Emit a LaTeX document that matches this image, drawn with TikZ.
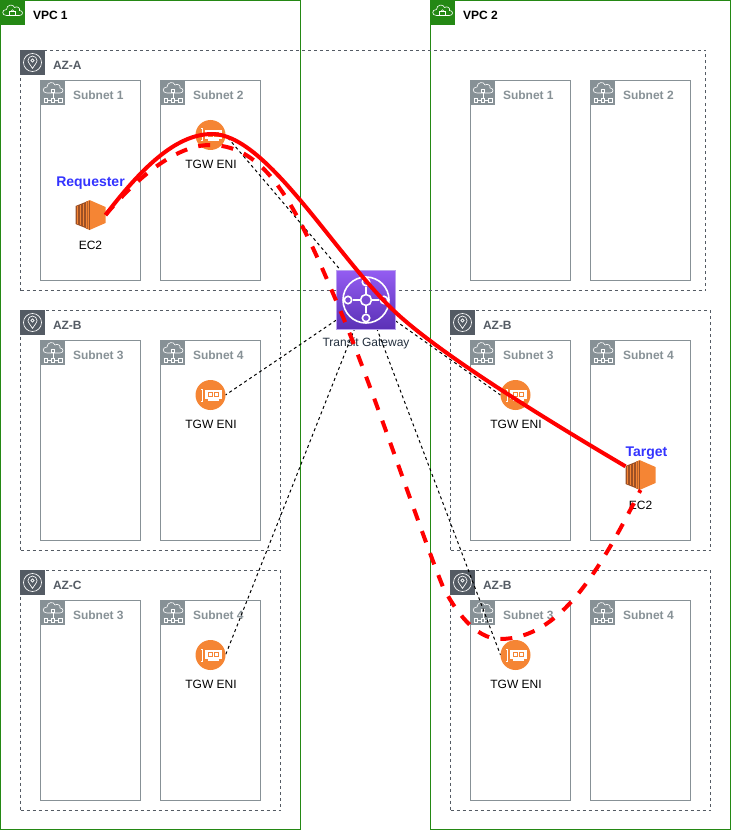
\documentclass[tikz,border=0pt]{standalone}
\usepackage{fontspec}
\setmainfont{Liberation Sans}
\pgfdeclarelayer{conn}
\pgfdeclarelayer{icons}
\pgfdeclarelayer{top}
\pgfsetlayers{main,conn,icons,top}
\definecolor{vpcgreen}{HTML}{248814}
\definecolor{azgray}{HTML}{545B64}
\definecolor{subgray}{HTML}{879196}
\definecolor{eniorange}{HTML}{F58534}
\definecolor{ec2dark}{HTML}{9D5025}
\definecolor{reqblue}{HTML}{3333FF}
\definecolor{tgwtop}{HTML}{945DF2}
\definecolor{tgwbot}{HTML}{5A30B5}
\definecolor{tgwedge}{HTML}{B9A0EE}
\definecolor{tgwtext}{HTML}{232F3E}
\tikzset{
  every node/.style={inner sep=0pt,outer sep=0pt,font=\fontsize{9}{11}\selectfont},
  vpcbox/.style={draw=vpcgreen,line width=.75pt,anchor=north west,minimum width=225pt,minimum height=622.1pt},
  azbox/.style={draw=azgray,line width=.75pt,dash pattern=on 2.25pt off 2.25pt,anchor=north west,minimum width=195pt,minimum height=180pt},
  subnetbox/.style={draw=subgray,line width=.75pt,anchor=north west,minimum width=75pt,minimum height=150pt},
  vpctile/.style={fill=vpcgreen,anchor=north west,minimum size=18.75pt},
  aztile/.style={fill=azgray,anchor=north west,minimum size=18.75pt},
  subtile/.style={fill=subgray,anchor=north west,minimum size=18pt},
  vpclabel/.style={anchor=west,font=\fontsize{9}{11}\selectfont\bfseries,text=black},
  azlabel/.style={anchor=west,font=\fontsize{9}{11}\selectfont\bfseries,text=azgray},
  sublabel/.style={anchor=west,font=\fontsize{9}{11}\selectfont\bfseries,text=subgray},
  caption/.style={text=black},
  rolelabel/.style={font=\fontsize{10.5}{12}\selectfont\bfseries,text=reqblue},
  eninode/.style={circle,fill=eniorange,minimum size=22.5pt},
  ec2node/.style={minimum size=22.5pt},
  tgwnode/.style={draw=tgwedge,line width=.75pt,top color=tgwtop,bottom color=tgwbot,minimum size=44.5pt},
  peer/.style={draw=black,line width=.75pt,dash pattern=on 2.25pt off 2.25pt},
  reqpath/.style={draw=red,line width=3pt},
  resppath/.style={draw=red,line width=3pt,dash pattern=on 9pt off 8.6pt},
  cloudshape/.pic={
    \draw[white,line width=.45pt,line join=round] (-6,3) .. controls (-11,3) and (-11,-3) .. (-6,-3)
      .. controls (-6,-8) and (1,-9) .. (2,-5) .. controls (5,-7) and (8,-4) .. (7,-2)
      .. controls (11,-2) and (11,3) .. (7,3) -- cycle;
  },
  vpcicon/.pic={
    \pic {cloudshape};
    \draw[white,line width=.45pt] (-3,-1) rectangle (3,3);
    \draw[white,line width=.45pt] (-1.7,-1) arc[start angle=180,end angle=360,radius=1.7];
  },
  azicon/.pic={
    \draw[white,line width=.5pt] (0,0) circle[radius=9];
    \draw[white,line width=.5pt,line join=round] (0,6) .. controls (-2,2.5) and (-4.5,0) .. (-4.5,-2)
      arc[start angle=180,end angle=360,radius=4.5] .. controls (4.5,0) and (2,2.5) .. (0,6) -- cycle;
    \draw[white,line width=.5pt] (0,-2) circle[radius=1.6];
  },
  subicon/.pic={
    \begin{scope}[shift={(0,-3)},scale=.9]\pic {cloudshape};\end{scope}
    \draw[white,line width=.45pt] (-1.5,-3.5) rectangle (1.5,-.5);
    \draw[white,line width=.45pt] (0,-.5) -- (0,6);
    \draw[white,line width=.45pt] (-6,7) -- (6,7);
    \draw[white,line width=.45pt,fill=subgray] (-9,5.5) rectangle (-5.5,9);
    \draw[white,line width=.45pt,fill=subgray] (-1.7,5.5) rectangle (1.7,9);
    \draw[white,line width=.45pt,fill=subgray] (5.5,5.5) rectangle (9,9);
  },
  enicard/.pic={
    \draw[white,line width=.75pt] (-8,-6) -- (-10,-6) (-8,6) -- (-10,6) (-8,-6) -- (-8,6);
    \fill[white] (-5.5,-5) rectangle (11,4);
    \fill[white] (-3,4) rectangle (8,6);
    \fill[eniorange] (-3,-3) rectangle (2,2);
    \fill[eniorange] (3,-3) rectangle (8,2);
    \fill[white] (-2,-2) rectangle (1,1);
    \fill[white] (4,-2) rectangle (7,1);
  },
  ec2icon/.pic={
    \fill[eniorange] (-1,-15) -- (15,-8) -- (15,8) -- (-1,15) -- (-5,13) -- (-5,-13) -- cycle;
    \fill[ec2dark] (-15,-9) -- (-5,-13) -- (-3,-14) -- (-3,14) -- (-5,13) -- (-15,9) -- cycle;
    \fill[eniorange] (-14,-9) rectangle (-12.5,9);
    \fill[eniorange] (-11,-10) rectangle (-9.5,10);
    \fill[eniorange] (-8,-11) rectangle (-6.5,11);
    \fill[eniorange] (-5,-13) rectangle (-3.2,13);
    \fill[ec2dark] (-2,-14.5) rectangle (-.8,14.5);
  },
  tgwicon/.pic={
    \draw[white,line width=1.2pt] (0,0) circle[radius=23];
    \draw[white,line width=1.2pt] (-13,0) -- (13,0) (0,-13) -- (0,13);
    \draw[white,line width=1.2pt,fill=tgwtop!50!tgwbot] (0,0) circle[radius=5.5];
    \draw[white,line width=1.2pt,fill=tgwtop!50!tgwbot] (-18,0) circle[radius=3.7];
    \draw[white,line width=1.2pt,fill=tgwtop!50!tgwbot] (18,0) circle[radius=3.7];
    \draw[white,line width=1.2pt,fill=tgwtop!50!tgwbot] (0,-18) circle[radius=3.7];
    \draw[white,line width=1.2pt,fill=tgwtop!50!tgwbot] (0,18) circle[radius=3.7];
  }
}
\begin{document}
\begin{tikzpicture}[x=.75pt,y=-.75pt]
\useasboundingbox (0,0) rectangle (731,831);
% VPCs
\node[vpcbox] (vpcone) at (.5,.5) {};
\node[vpcbox] (vpctwo) at (430.5,.5) {};
\node[vpctile] (vpconetile) at (0,0) {};
\pic at (vpconetile.center) {vpcicon};
\node[vpctile] (vpctwotile) at (430,0) {};
\pic at (vpctwotile.center) {vpcicon};
\node[vpclabel] (vpconelabel) at (33,15) {VPC 1};
\node[vpclabel] (vpctwolabel) at (463,15) {VPC 2};
% availability zones
\node[azbox,minimum width=513.75pt] (aza) at (20.5,50.5) {};
\node[azbox] (azbl) at (20.5,310.5) {};
\node[azbox] (azc) at (20.5,570.5) {};
\node[azbox] (azbr) at (450.5,310.5) {};
\node[azbox] (azbs) at (450.5,570.5) {};
\foreach \nm/\xx/\yy/\tx in {atile/20/50/AZ-A,bltile/20/310/AZ-B,ctile/20/570/AZ-C,brtile/450/310/AZ-B,bstile/450/570/AZ-B}{
  \node[aztile] (az\nm) at (\xx,\yy) {};
  \pic at (az\nm.center) {azicon};
  \node[azlabel] (azlab\nm) at (\xx+33,\yy+15) {\tx};
}
% subnets
\foreach \nm/\xx/\yy/\tx in {
  aa/40/80/Subnet 1,ab/160/80/Subnet 2,ac/470/80/Subnet 1,ad/590/80/Subnet 2,
  ba/40/340/Subnet 3,bb/160/340/Subnet 4,bc/470/340/Subnet 3,bd/590/340/Subnet 4,
  ca/40/600/Subnet 3,cb/160/600/Subnet 4,cc/470/600/Subnet 3,cd/590/600/Subnet 4}{
  \node[subnetbox] (sub\nm) at (\xx+.5,\yy+.5) {};
  \node[subtile] (subtile\nm) at (\xx+1,\yy+1) {};
  \pic at (subtile\nm.center) {subicon};
  \node[sublabel] (sublab\nm) at (\xx+33,\yy+15) {\tx};
}
% icons and labels
\begin{pgfonlayer}{icons}
\node[eninode] (enia) at (210.5,135) {};
\node[eninode] (enib) at (210.5,395) {};
\node[eninode] (enic) at (210.5,655) {};
\node[eninode] (enid) at (515.5,395) {};
\node[eninode] (enie) at (515.5,655) {};
\foreach \e in {enia,enib,enic,enid,enie}{\pic at (\e.center) {enicard};}
\node[ec2node] (ec2a) at (90.5,215) {};
\pic at (ec2a.center) {ec2icon};
\node[ec2node] (ec2b) at (640.5,475) {};
\pic at (ec2b.center) {ec2icon};
\node[tgwnode] (tgw) at (366,300) {};
\pic at (tgw.center) {tgwicon};
\end{pgfonlayer}
\node[caption] (enialab) at (211,164.5) {TGW ENI};
\node[caption] (eniblab) at (211,424.5) {TGW ENI};
\node[caption] (eniclab) at (211,684.5) {TGW ENI};
\node[caption] (enidlab) at (516,424.5) {TGW ENI};
\node[caption] (enielab) at (516,684.5) {TGW ENI};
\node[caption] (ec2alab) at (90.5,245) {EC2};
\node[caption] (ec2blab) at (640.5,505) {EC2};
\node[rolelabel] (reqlab) at (90.5,183) {Requester};
\node[rolelabel] (tarlab) at (646.5,453) {Target};
\node[caption,text=tgwtext] (tgwlab) at (366,343.5) {Transit Gateway};
% attachments
\begin{pgfonlayer}{conn}
\draw[peer] (tgw.center) -- (enia.east);
\draw[peer] (tgw.center) -- (enib.east);
\draw[peer] (tgw.center) -- (enic.east);
\draw[peer] (tgw.center) -- (enid.west);
\draw[peer] (tgw.center) -- (enie.west);
\end{pgfonlayer}
% traffic
\begin{pgfonlayer}{top}
\coordinate (reqpeak) at (212,134);
\coordinate (reqmid) at (390,307);
\draw[reqpath] (ec2a.east) .. controls (140,170) and (175,134) .. (reqpeak)
  .. controls (265,134) and (330,247) .. (reqmid)
  .. controls (430,347) and (530,410) .. (ec2b.150);
\coordinate (retpeak) at (210,145);
\coordinate (retmid) at (343,317);
\coordinate (retlow) at (443,587);
\coordinate (retbot) at (500,639);
\draw[resppath] (ec2a.east) .. controls (135,180) and (175,145) .. (retpeak)
  .. controls (270,145) and (300,215) .. (retmid)
  .. controls (375,395) and (420,530) .. (retlow)
  .. controls (455,610) and (475,639) .. (retbot)
  .. controls (560,639) and (600,570) .. (ec2b.south);
\end{pgfonlayer}
\end{tikzpicture}
\end{document}
